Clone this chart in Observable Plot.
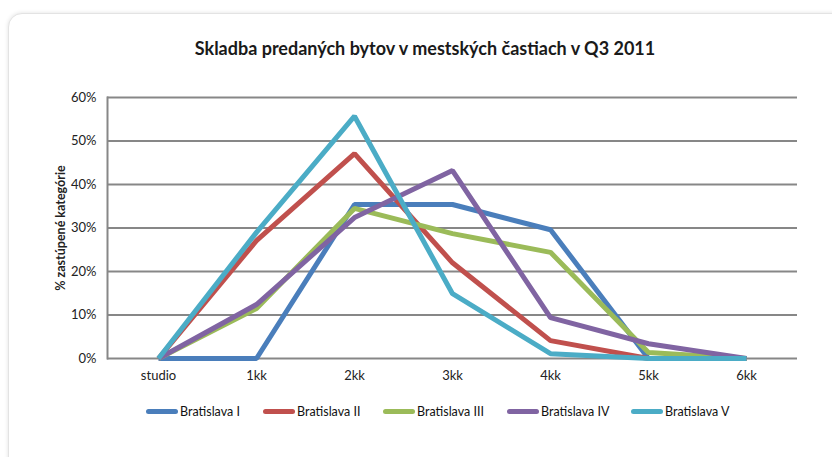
<!DOCTYPE html>
<html><head><meta charset="utf-8">
<script src="https://cdn.jsdelivr.net/npm/d3@7"></script>
<script src="https://cdn.jsdelivr.net/npm/@observablehq/plot@0.6"></script>
<style>
body{margin:0;background:#fff;width:832px;height:457px;overflow:hidden;font-family:Lato,"Open Sans",sans-serif;}
#card{position:absolute;left:8px;top:13px;width:860px;height:480px;border:1px solid #e3e3e3;border-radius:14px;box-shadow:0 0 4px rgba(0,0,0,0.12);background:#fff;}
#title{position:absolute;left:0;top:37px;width:850px;text-align:center;font-size:18px;font-weight:bold;color:#1a1a1a;}
#chart{position:absolute;left:0;top:0;}
#legend{position:absolute;top:404px;left:0;font-size:12.5px;color:#111;}
.item{position:absolute;white-space:nowrap;display:flex;align-items:center;}
.sw{display:inline-block;width:32px;height:5px;border-radius:3px;margin-right:2px;}
</style></head>
<body>
<div id="card"></div>
<div id="title">Skladba predaných bytov v mestských častiach v Q3 2011</div>
<div id="chart"></div>
<div id="legend"></div>
<script>
const categories = ["studio","1kk","2kk","3kk","4kk","5kk","6kk"];
const seriesNames = ["Bratislava I","Bratislava II","Bratislava III","Bratislava IV","Bratislava V"];
const colors = ["#4A7EBB","#C0504D","#9BBB59","#8064A2","#4BACC6"];
const bratislavaI   = [0, 0,    0.354, 0.354, 0.296, 0,     0];
const bratislavaII  = [0, 0.271,0.471, 0.220, 0.041, 0,     0];
const bratislavaIII = [0, 0.115,0.345, 0.287, 0.244, 0.014, 0];
const bratislavaIV  = [0, 0.124,0.324, 0.432, 0.094, 0.034, 0];
const bratislavaV   = [0, 0.290,0.557, 0.149, 0.011, 0,     0];
const yTicks = [0,0.1,0.2,0.3,0.4,0.5,0.6];
const allSeries = [bratislavaI,bratislavaII,bratislavaIII,bratislavaIV,bratislavaV];

const data = [];
allSeries.forEach((vals,si)=>vals.forEach((v,i)=>data.push({series:seriesNames[si],cat:categories[i],value:v})));

const chart = Plot.plot({
  width:832, height:457,
  marginLeft:107, marginRight:35, marginTop:97, marginBottom:99,
  style:{fontFamily:"Lato, 'Open Sans', sans-serif", fontSize:"13px", color:"#222", background:"transparent"},
  x:{type:"point", domain:categories, padding:0.5, label:null, tickSize:0, tickPadding:12},
  y:{domain:[0,0.6], ticks:yTicks, tickFormat:d3.format(".0%"), tickSize:0, tickPadding:11, label:null},
  color:{domain:seriesNames, range:colors},
  marks:[
    Plot.ruleY(yTicks,{stroke:"#878787",strokeWidth:2}),
    Plot.frame({anchor:"left",stroke:"#878787",strokeWidth:2}),
    Plot.lineY(data,{x:"cat",y:"value",z:"series",stroke:"series",strokeWidth:5,strokeLinejoin:"miter",strokeLinecap:"butt"}),
    Plot.text(["% zastúpené kategórie"],{frameAnchor:"left",textAnchor:"middle",dx:-47,rotate:-90,fontWeight:"bold",fontSize:12.5})
  ]
});
document.getElementById("chart").appendChild(chart);

const lx = [146,263,383,507,631];
const leg = document.getElementById("legend");
seriesNames.forEach((n,i)=>{
  const d=document.createElement("div");d.className="item";d.style.left=lx[i]+"px";
  d.innerHTML=`<span class="sw" style="background:${colors[i]}"></span><span>${n}</span>`;
  leg.appendChild(d);
});
</script>
</body></html>
